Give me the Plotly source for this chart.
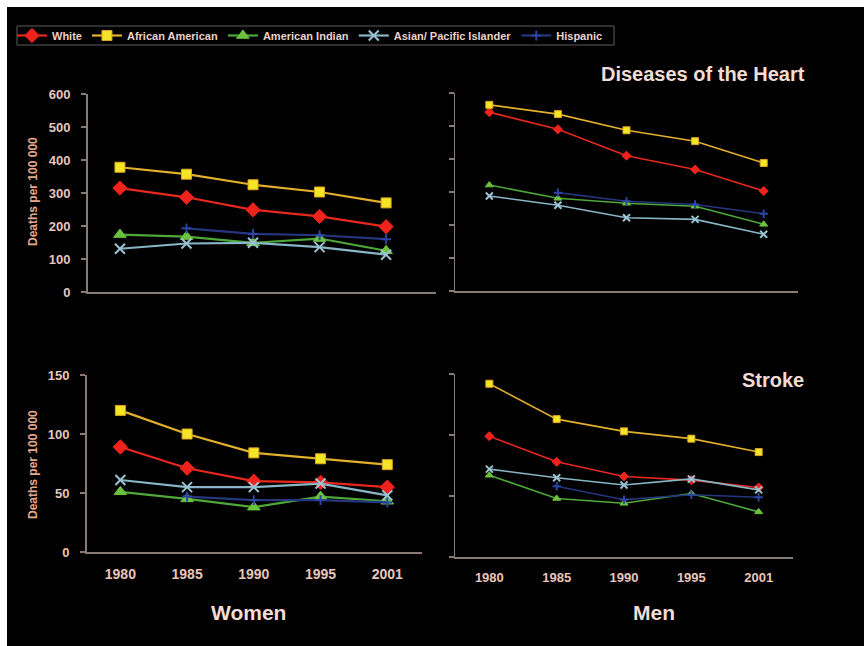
import plotly.graph_objects as go

W, H = 864, 646

# ---- data -------------------------------------------------------------
years = ["1980", "1985", "1990", "1995", "2001"]
series_names = ["White", "African American", "American Indian",
                "Asian/ Pacific Islander", "Hispanic"]

# Diseases of the heart, women (deaths per 100 000)
women_heart_white = [315, 287, 249, 229, 198]
women_heart_black = [378, 357, 325, 303, 270]
women_heart_amind = [174, 168, 149, 162, 125]
women_heart_asian = [131, 147, 149, 136, 113]
women_heart_hisp = [None, 193, 176, 172, 160]

# Diseases of the heart, men
men_heart_white = [542, 490, 410, 368, 303]
men_heart_black = [564, 536, 487, 454, 388]
men_heart_amind = [321, 281, 266, 257, 202]
men_heart_asian = [288, 260, 222, 217, 172]
men_heart_hisp = [None, 298, 272, 262, 234]

# Stroke, women
women_stroke_white = [89, 71, 60, 59, 55]
women_stroke_black = [120, 100, 84, 79, 74]
women_stroke_amind = [51, 45, 38, 47, 43]
women_stroke_asian = [61, 55, 55, 58, 48]
women_stroke_hisp = [None, 47, 44, 44, 42]

# Stroke, men
men_stroke_white = [99, 78, 66, 63, 57]
men_stroke_black = [142, 113, 103, 97, 86]
men_stroke_amind = [67, 48, 44, 52, 37]
men_stroke_asian = [72, 65, 59, 64, 55]
men_stroke_hisp = [None, 58, 47, 51, 49]

y_title = "Deaths per 100 000"


# ---- helpers ----------------------------------------------------------
def px(x):
    return x / W


def py(y):
    return 1 - y / H


FONT = "Liberation Sans, Arial, sans-serif"
NARROW = "Liberation Sans Narrow, Arial Narrow, Liberation Sans, Arial, sans-serif"
TICK_COL = "#e9c6ba"
AXIS_COL = "#8a7a74"

styles = [
    dict(line="#e8281e", fill="#f0231c", edge="#f0231c", symbol="diamond", big=11, small=7),
    dict(line="#e2b02c", fill="#f4e526", edge="#e0a424", symbol="square", big=10, small=7),
    dict(line="#4ea83a", fill="#6cc23c", edge="#6cc23c", symbol="triangle-up", big=11, small=7),
    dict(line="#88b6c6", fill="#9cc4d2", edge="#9cc4d2", symbol="x-thin", big=10, small=7),
    dict(line="#26367e", fill="#2c44a6", edge="#2c44a6", symbol="cross-thin", big=7, small=6),
]

panels = [
    ("x", "y", [women_heart_white, women_heart_black, women_heart_amind,
                women_heart_asian, women_heart_hisp], True),
    ("x2", "y2", [men_heart_white, men_heart_black, men_heart_amind,
                  men_heart_asian, men_heart_hisp], False),
    ("x3", "y3", [women_stroke_white, women_stroke_black, women_stroke_amind,
                  women_stroke_asian, women_stroke_hisp], True),
    ("x4", "y4", [men_stroke_white, men_stroke_black, men_stroke_amind,
                  men_stroke_asian, men_stroke_hisp], False),
]

fig = go.Figure()

for p, (xa, ya, series, left) in enumerate(panels):
    for i, (name, vals) in enumerate(zip(series_names, series)):
        st = styles[i]
        thin = st["symbol"].endswith("-thin")
        size = st["big"] if left else st["small"]
        fig.add_trace(go.Scatter(
            x=years, y=vals, name=name, xaxis=xa, yaxis=ya,
            mode="lines+markers", legendgroup=name, showlegend=(p == 0),
            line=dict(color=st["line"], width=2.2 if left else 1.6),
            marker=dict(symbol=st["symbol"], size=size, color=st["fill"],
                        line=dict(color=st["edge"], width=2 if thin else 1)),
        ))


def x_axis(domain, anchor, rng, labels, font=None, standoff=8):
    return dict(domain=domain, anchor=anchor, type="category",
                categoryorder="array", categoryarray=years, range=rng,
                showline=True, linecolor=AXIS_COL, linewidth=2,
                showgrid=False, zeroline=False, ticks="",
                showticklabels=labels, ticklabelstandoff=standoff,
                tickfont=font or dict(family=FONT, size=14, color=TICK_COL, weight="bold"),
                automargin=False, fixedrange=True)


def y_axis(domain, anchor, rng, dtick, labels, lw=2):
    return dict(domain=domain, anchor=anchor, range=rng, dtick=dtick,
                showline=True, linecolor=AXIS_COL, linewidth=lw,
                showgrid=False, zeroline=False, ticks="outside", ticklen=5,
                tickcolor=AXIS_COL, tickwidth=1.5,
                showticklabels=labels, ticklabelstandoff=8,
                tickfont=dict(family=FONT, size=13, color=TICK_COL, weight="bold"),
                automargin=False, fixedrange=True)


fig.update_layout(
    width=W, height=H,
    margin=dict(l=0, r=0, t=0, b=0, pad=0, autoexpand=False),
    paper_bgcolor="black", plot_bgcolor="black",
    xaxis=x_axis([px(88), px(436)], "y", [-0.48, 4.75], False),
    yaxis=y_axis([py(292), py(94)], "x", [0, 600], 100, True),
    xaxis2=x_axis([px(455), px(798)], "y2", [-0.5, 4.5], False),
    yaxis2=y_axis([py(291), py(93)], "x2", [0, 600], 100, False, lw=1.2),
    xaxis3=x_axis([px(87), px(422)], "y3", [-0.5, 4.52], True, standoff=8),
    yaxis3=y_axis([py(552), py(375)], "x3", [0, 150], 50, True),
    xaxis4=x_axis([px(455), px(793)], "y4", [-0.51, 4.51], True,
                  font=dict(family=NARROW, size=13, color=TICK_COL, weight="bold"),
                  standoff=7),
    yaxis4=y_axis([py(557), py(374)], "x4", [0, 150], 50, False, lw=1.2),
    legend=dict(orientation="h", x=px(12), y=py(35.5), xanchor="left", yanchor="middle",
                bgcolor="rgba(0,0,0,0)", borderwidth=0,
                font=dict(family=FONT, size=11, color="#ead2ca", weight="bold"),
                itemclick=False, itemdoubleclick=False, tracegroupgap=0),
    showlegend=True,
    shapes=[
        dict(type="rect", xref="paper", yref="paper", x0=0, x1=1, y0=py(7), y1=1,
             fillcolor="white", line=dict(width=0), layer="below"),
        dict(type="rect", xref="paper", yref="paper", x0=0, x1=px(7), y0=0, y1=1,
             fillcolor="white", line=dict(width=0), layer="below"),
        # frame around the legend row
        dict(type="rect", xref="paper", yref="paper", x0=px(17), x1=px(614),
             y0=py(45), y1=py(26), line=dict(color="#5c5c5c", width=1),
             fillcolor="rgba(0,0,0,0)", layer="below"),
    ],
)

TITLE_COL = "#f2dcd4"
annotations = [
    dict(text="Diseases of the Heart", x=px(807), y=py(74), xanchor="right",
         font=dict(family=FONT, size=20, color=TITLE_COL, weight="bold")),
    dict(text="Stroke", x=px(806), y=py(380), xanchor="right",
         font=dict(family=FONT, size=20, color=TITLE_COL, weight="bold")),
    dict(text="Women", x=px(248), y=py(612), xanchor="center",
         font=dict(family=FONT, size=21, color=TITLE_COL, weight="bold")),
    dict(text="Men", x=px(654), y=py(612), xanchor="center",
         font=dict(family=FONT, size=21, color=TITLE_COL, weight="bold")),
    dict(text=y_title, x=px(33), y=py(192), textangle=-90, xanchor="center",
         font=dict(family=FONT, size=12, color="#e6a88c", weight="bold")),
    dict(text=y_title, x=px(33), y=py(465), textangle=-90, xanchor="center",
         font=dict(family=FONT, size=12, color="#e6a88c", weight="bold")),
]
for a in annotations:
    a.update(xref="paper", yref="paper", yanchor="middle", showarrow=False)
fig.update_layout(annotations=annotations)

fig.write_html("out.html")
